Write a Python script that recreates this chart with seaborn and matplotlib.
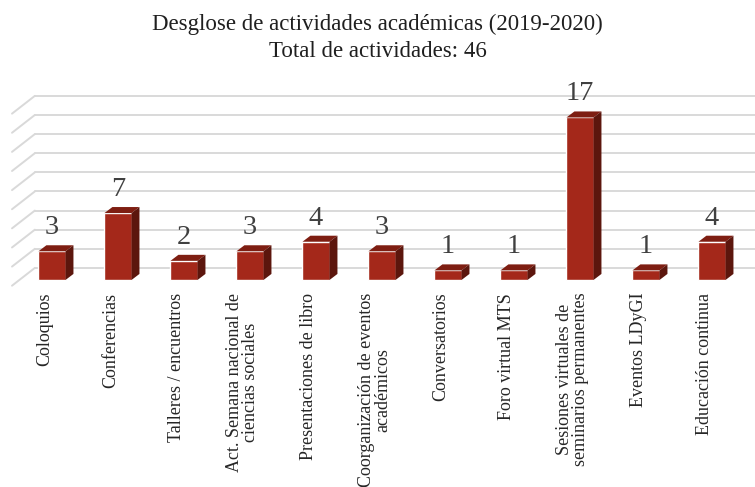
import matplotlib
matplotlib.use("Agg")
import numpy as np
import matplotlib.pyplot as plt
from matplotlib.patches import Polygon
import seaborn as sns

# data
categories = [
    "Coloquios",
    "Conferencias",
    "Talleres / encuentros",
    "Act. Semana nacional de\nciencias sociales",
    "Presentaciones de libro",
    "Coorganización de eventos\nacadémicos",
    "Conversatorios",
    "Foro virtual MTS",
    "Sesiones virtuales de\nseminarios permanentes",
    "Eventos LDyGI",
    "Educación continua",
]
values = [3, 7, 2, 3, 4, 3, 1, 1, 17, 1, 4]
grid_values = [0, 2, 4, 6, 8, 10, 12, 14, 16, 18]

title_1 = "Desglose de actividades académicas (2019-2020)"
title_2 = "Total de actividades: 46"

# colours
front_col = "#a4281a"
top_col = "#7e1e12"
side_col = "#5c160d"
grid_col = "#d9d9d9"
text_col = "#404040"

sns.set_style("white")
plt.rcParams["font.family"] = ["Liberation Serif", "DejaVu Serif"]

fig = plt.figure(figsize=(7.55, 4.87), dpi=100)
ax = fig.add_axes([0, (487 - 290) / 487, 1, 210 / 487])

sns.barplot(x=categories, y=values, color=front_col, width=0.41,
            saturation=1, ax=ax, zorder=3)

ax.set_xlim(-52 / 66, (755 - 52) / 66)
ax.set_ylim(-1.05, 20.92)

# 3d depth of bars (data units)
dx, dy = 0.12, 0.63
# back wall offset and side wall
wall_x, wall_dy = -0.26, 1.26
side_x, side_drop = -0.606, 1.86

for v in grid_values:
    yb = v + wall_dy
    ax.plot([wall_x, ax.get_xlim()[1]], [yb, yb], color=grid_col, lw=1.4, zorder=1)
    ax.plot([side_x, wall_x], [yb - side_drop, yb], color=grid_col, lw=1.4, zorder=1)

for p, v in zip(list(ax.patches), values):
    x0, w, h = p.get_x(), p.get_width(), p.get_height()
    top = Polygon([(x0, h), (x0 + w, h), (x0 + w + dx, h + dy), (x0 + dx, h + dy)],
                  closed=True, facecolor=top_col, edgecolor="none", zorder=3)
    side = Polygon([(x0 + w, 0), (x0 + w + dx, dy), (x0 + w + dx, h + dy), (x0 + w, h)],
                   closed=True, facecolor=side_col, edgecolor="none", zorder=3)
    ax.add_patch(top)
    ax.add_patch(side)
    ax.text(x0 + w / 2, h + dy + 1.15, str(v), ha="center", va="baseline",
            fontsize=20.5, color=text_col, zorder=4)

# category labels sit a little left of the bar centres
ax.set_xticks(np.arange(len(categories)) - 0.11)
ax.set_xticklabels(categories, rotation=90, va="top", ha="center",
                   multialignment="center", fontsize=13, color="#262626",
                   linespacing=0.95)
ax.tick_params(axis="x", length=0, pad=2)
ax.set_yticks([])
ax.set_xlabel("")
ax.set_ylabel("")
for s in ax.spines.values():
    s.set_visible(False)

fig.text(0.5, 1 - 30 / 487, title_1, ha="center", va="baseline", fontsize=16.5,
         color="#1f1f1f")
fig.text(0.5, 1 - 57 / 487, title_2, ha="center", va="baseline", fontsize=16.5,
         color="#1f1f1f")

fig.savefig("out.png", dpi=100)
